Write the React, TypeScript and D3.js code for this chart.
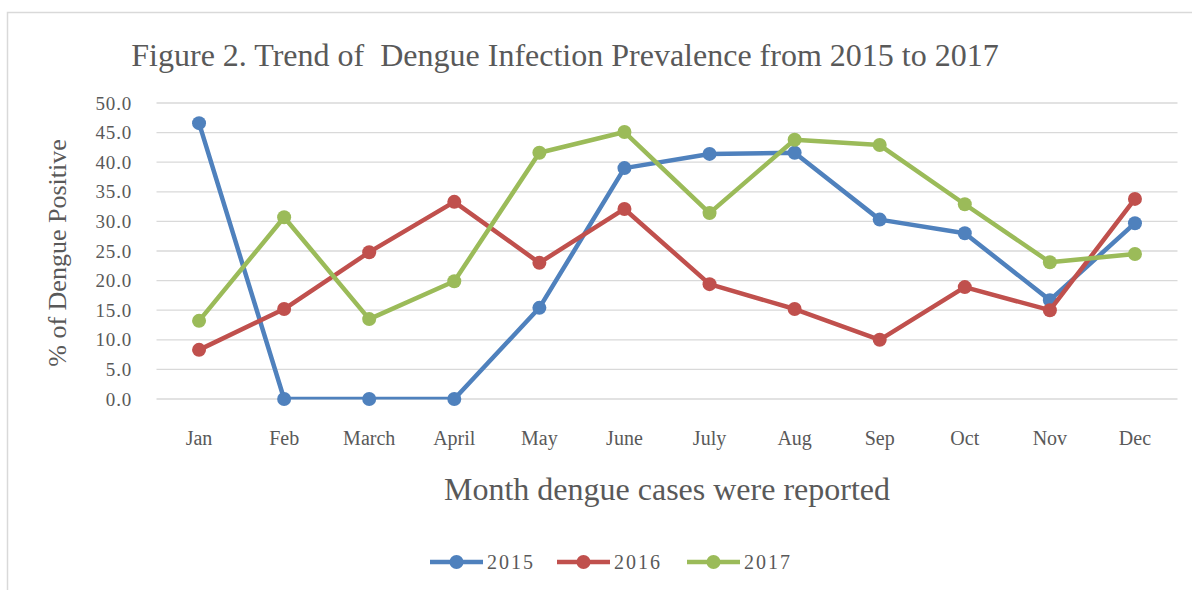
import React, { useEffect, useRef } from "react";
import * as d3 from "d3";

const months = ["Jan", "Feb", "March", "April", "May", "June", "July", "Aug", "Sep", "Oct", "Nov", "Dec"];
const yTicks = [0, 5, 10, 15, 20, 25, 30, 35, 40, 45, 50];

const v2015 = [46.6, 0, 0, 0, 15.4, 39.0, 41.4, 41.6, 30.3, 28.0, 16.7, 29.7];
const v2016 = [8.3, 15.2, 24.8, 33.3, 23.0, 32.1, 19.4, 15.2, 10.0, 18.9, 15.0, 33.8];
const v2017 = [13.2, 30.7, 13.5, 19.9, 41.6, 45.1, 31.4, 43.8, 42.9, 32.9, 23.1, 24.5];

const series = [
  { name: "2015", values: v2015, color: "#4F81BD" },
  { name: "2016", values: v2016, color: "#C0504D" },
  { name: "2017", values: v2017, color: "#9BBB59" },
];

const App = () => {
  const ref = useRef<SVGSVGElement>(null);

  useEffect(() => {
    const svg = d3.select(ref.current);
    svg.selectAll("*").remove();

    const width = 1192;
    const height = 590;
    const font = "'Liberation Serif', 'Times New Roman', serif";
    const textColor = "#595959";

    svg.attr("width", width).attr("height", height);

    // chart frame
    svg
      .append("rect")
      .attr("x", 7.5)
      .attr("y", 12.5)
      .attr("width", width)
      .attr("height", height)
      .attr("fill", "white")
      .attr("stroke", "#D9D9D9")
      .attr("stroke-width", 1.5);

    const x = d3.scalePoint().domain(months).range([156.5, 1177.5]).padding(0.5);
    const y = d3.scaleLinear().domain([0, 50]).range([399, 103]);

    // gridlines
    svg
      .append("g")
      .selectAll("line")
      .data(yTicks)
      .enter()
      .append("line")
      .attr("x1", 156.5)
      .attr("x2", 1177.5)
      .attr("y1", (d) => y(d))
      .attr("y2", (d) => y(d))
      .attr("stroke", "#D9D9D9")
      .attr("stroke-width", 1.3);

    // y tick labels
    svg
      .append("g")
      .selectAll("text")
      .data(yTicks)
      .enter()
      .append("text")
      .attr("x", 132)
      .attr("y", (d) => y(d))
      .attr("dy", "0.35em")
      .attr("text-anchor", "end")
      .attr("font-family", font)
      .attr("font-size", 19)
      .attr("fill", textColor)
      .attr("letter-spacing", 0.8)
      .text((d) => d.toFixed(1));

    // x tick labels
    svg
      .append("g")
      .selectAll("text")
      .data(months)
      .enter()
      .append("text")
      .attr("x", (d) => x(d))
      .attr("y", 445)
      .attr("text-anchor", "middle")
      .attr("font-family", font)
      .attr("font-size", 20)
      .attr("fill", textColor)
      .text((d) => d);

    // title
    svg
      .append("text")
      .attr("x", 565)
      .attr("y", 66)
      .attr("text-anchor", "middle")
      .attr("font-family", font)
      .attr("font-size", 32)
      .attr("fill", textColor)
      .style("white-space", "pre")
      .text("Figure 2. Trend of  Dengue Infection Prevalence from 2015 to 2017");

    // axis titles
    svg
      .append("text")
      .attr("transform", "translate(66,253) rotate(-90)")
      .attr("text-anchor", "middle")
      .attr("font-family", font)
      .attr("font-size", 26)
      .attr("fill", textColor)
      .text("% of Dengue Positive");

    svg
      .append("text")
      .attr("x", 667)
      .attr("y", 500)
      .attr("text-anchor", "middle")
      .attr("font-family", font)
      .attr("font-size", 32)
      .attr("fill", textColor)
      .text("Month dengue cases were reported");

    // clip lines to plot area like Excel does
    svg
      .append("clipPath")
      .attr("id", "plot-clip")
      .append("rect")
      .attr("x", 156)
      .attr("y", 90)
      .attr("width", 1030)
      .attr("height", y(0) - 90 + 0.5);

    const line = d3
      .line<number>()
      .x((_, i) => x(months[i]) as number)
      .y((d) => y(d));

    const g = svg.append("g");
    series.forEach((s) => {
      g.append("path")
        .datum(s.values)
        .attr("d", line)
        .attr("fill", "none")
        .attr("stroke", s.color)
        .attr("stroke-width", 4.5)
        .attr("stroke-linejoin", "round")
        .attr("clip-path", "url(#plot-clip)");
      g.selectAll(null)
        .data(s.values)
        .enter()
        .append("circle")
        .attr("cx", (_, i) => x(months[i]) as number)
        .attr("cy", (d) => y(d))
        .attr("r", 7)
        .attr("fill", s.color);
    });

    // legend
    const legendX = [430, 557, 687];
    const legend = svg.append("g");
    series.forEach((s, i) => {
      const lx = legendX[i];
      legend
        .append("line")
        .attr("x1", lx)
        .attr("x2", lx + 53)
        .attr("y1", 562)
        .attr("y2", 562)
        .attr("stroke", s.color)
        .attr("stroke-width", 4.5);
      legend
        .append("circle")
        .attr("cx", lx + 26.5)
        .attr("cy", 562)
        .attr("r", 7)
        .attr("fill", s.color);
      legend
        .append("text")
        .attr("x", lx + 57)
        .attr("y", 562)
        .attr("dy", "0.35em")
        .attr("font-family", font)
        .attr("font-size", 20)
        .attr("letter-spacing", 2)
        .attr("fill", textColor)
        .text(s.name);
    });
  }, []);

  return <svg ref={ref} style={{ position: "absolute", left: 0, top: 0 }}></svg>;
};

export default App;
